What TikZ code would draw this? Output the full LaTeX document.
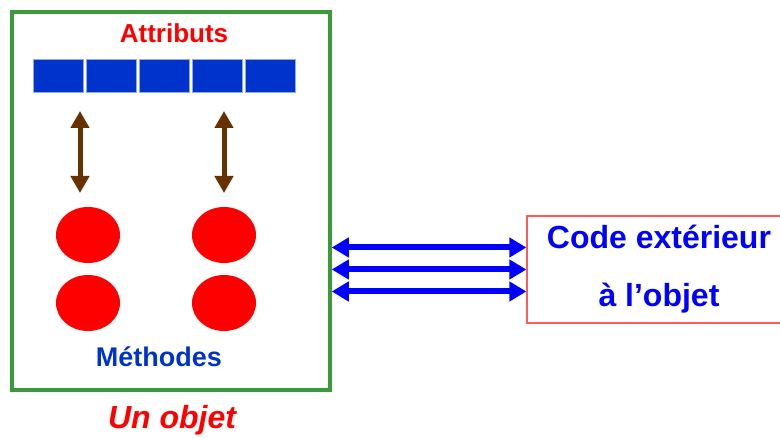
\documentclass[tikz,border=0pt]{standalone}
\usepackage{fontspec}
\setmainfont{Liberation Sans}
\usepackage{tikz}
\usetikzlibrary{calc, positioning, shapes.geometric}
\usetikzlibrary{arrows.meta}
\tikzset{>=stealth}
\definecolor{objgreen}{HTML}{3A9A3A}
\definecolor{attblue}{HTML}{0033CC}
\definecolor{cellline}{HTML}{8FA8EE}
\definecolor{liebrown}{HTML}{663300}
\definecolor{fluxblue}{HTML}{0000FF}
\definecolor{codered}{HTML}{FF5A5A}
\tikzset{
  cell/.style={fill=attblue, draw=cellline, line width=1pt, minimum width=50pt, minimum height=33pt, inner sep=0pt},
  methode/.style={ellipse, fill=red, minimum width=64pt, minimum height=56pt, inner sep=0pt},
  lien/.style={liebrown, line width=5pt, {Triangle[width=18pt,length=17pt]}-{Triangle[width=18pt,length=17pt]}},
  flux/.style={fluxblue, line width=6pt, {Triangle[width=19pt,length=17pt]}-{Triangle[width=19pt,length=17pt]}}
}
\begin{document}
\begin{tikzpicture}[x=1pt,y=-1pt]
			\useasboundingbox (0,0) rectangle (780,438);
			\node [draw=objgreen, line width=3.5pt, minimum width=318pt, minimum height=378pt] (objet) at (171,201) {};
			\node [anchor=base, text=red, font=\bfseries\fontsize{26}{30}\selectfont] (attr) at (174,43) {Attributs};
			\foreach \i in {1,...,5}
				\node [cell] (c\i) at ({58+53*(\i-1)},76.5) {};
			\node [methode] (m1) at (88,235) {};
			\node [methode] (m2) at (224,235) {};
			\node [methode] (m3) at (88,303) {};
			\node [methode] (m4) at (224,303) {};
			\coordinate (h1) at (80,111);
			\coordinate (b1) at (80,193);
			\coordinate (h2) at (224,111);
			\coordinate (b2) at (224,193);
			\draw [lien] (h1) -- (b1);
			\draw [lien] (h2) -- (b2);
			\node [anchor=base, text=attblue, font=\bfseries\fontsize{27}{30}\selectfont] (meth) at (159,367) {Méthodes};
			\node [anchor=base, text=red, font=\bfseries\itshape\fontsize{32}{36}\selectfont] (nom) at (172,429) {Un objet};
			\node [draw=codered, line width=1.2pt, minimum width=264pt, minimum height=107pt, align=center, text=fluxblue, font=\bfseries\fontsize{32}{58}\selectfont] (code) at (659,269.5) {Code extérieur\\à l’objet};
			\foreach \dy in {-22,0,22}
				\draw [flux] ($(objet.east |- code.west)+(0,\dy)$) -- ($(code.west)+(0,\dy)$);
		\end{tikzpicture}
\end{document}
